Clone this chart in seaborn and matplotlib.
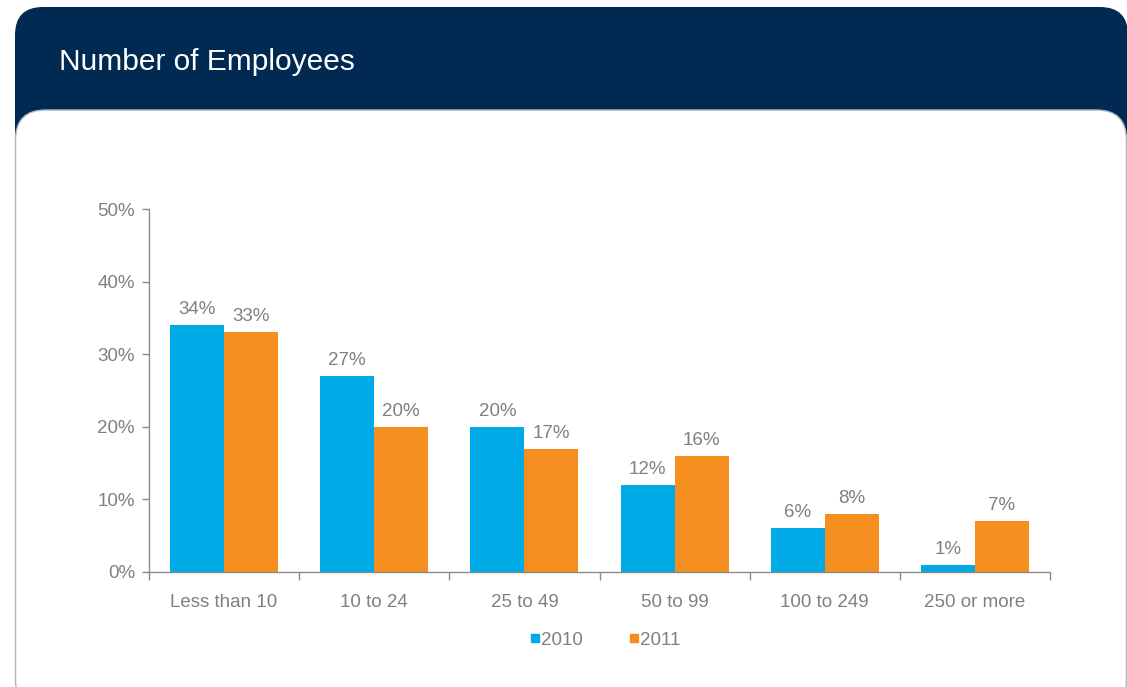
import matplotlib
matplotlib.use("Agg")
import matplotlib.pyplot as plt
from matplotlib.patches import FancyBboxPatch
from matplotlib.lines import Line2D
import seaborn as sns
import pandas as pd

# --- data ---------------------------------------------------------------
categories = ["Less than 10", "10 to 24", "25 to 49", "50 to 99", "100 to 249", "250 or more"]
years = ["2010", "2011"]
share_2010 = [34, 27, 20, 12, 6, 1]
share_2011 = [33, 20, 17, 16, 8, 7]
y_ticks = [0, 10, 20, 30, 40, 50]

df = pd.DataFrame({
    "size": categories * 2,
    "year": [years[0]] * len(categories) + [years[1]] * len(categories),
    "pct": share_2010 + share_2011,
})

# --- style --------------------------------------------------------------
NAVY = "#002a52"
BLUE = "#00aae7"
ORANGE = "#f48e1f"
GREY = "#808080"
AXIS = "#8a8a8a"
FS = 13.5

sns.set_theme(style="white")
plt.rcParams["font.family"] = ["Liberation Sans", "DejaVu Sans"]

W, H = 1127, 687
fig = plt.figure(figsize=(W / 100, H / 100), dpi=100)

# background card: navy header strip and white rounded panel
bg = fig.add_axes([0, 0, 1, 1])
bg.set_xlim(0, W)
bg.set_ylim(H, 0)
bg.axis("off")
bg.add_patch(FancyBboxPatch((15, 7), W - 15 + 1, 160,
                            boxstyle="round,pad=0,rounding_size=28",
                            fc=NAVY, ec="none"))
bg.add_patch(FancyBboxPatch((15.5, 110), W - 16, 600,
                            boxstyle="round,pad=0,rounding_size=30",
                            fc="white", ec="#a9b6c4", lw=1.0))
bg.text(59, 62, "Number of Employees", color="white", fontsize=21.5,
        va="center", ha="left")

# --- chart --------------------------------------------------------------
ax = fig.add_axes([149 / W, 115 / H, 901 / W, 363 / H])
sns.barplot(data=df, x="size", y="pct", hue="year", order=categories,
            hue_order=years, palette=[BLUE, ORANGE], saturation=1,
            width=0.72, gap=0, linewidth=0, edgecolor="none",
            ax=ax, legend=False)

for cont in ax.containers:
    ax.bar_label(cont, fmt="%d%%", padding=5, color=GREY, fontsize=FS)

ax.set_xlim(-0.5, len(categories) - 0.5)
ax.set_ylim(0, 50)
ax.set_yticks(y_ticks)
ax.set_yticklabels([f"{t}%" for t in y_ticks])
ax.set_xlabel("")
ax.set_ylabel("")

ax.set_xticks([i - 0.5 for i in range(len(categories) + 1)], minor=True)
ax.tick_params(axis="x", which="major", length=0, pad=16, labelsize=FS,
               labelcolor=GREY)
ax.tick_params(axis="x", which="minor", length=6, width=1, color=AXIS,
               direction="out", bottom=True)
ax.tick_params(axis="y", which="major", length=5, width=1, color=AXIS,
               direction="out", left=True, pad=5, labelsize=FS,
               labelcolor=GREY)

sns.despine(ax=ax, top=True, right=True)
for side in ("left", "bottom"):
    ax.spines[side].set_color(AXIS)
    ax.spines[side].set_linewidth(1)

handles = [Line2D([], [], marker="s", ls="none", ms=5.5, mfc=c, mec=c)
           for c in (BLUE, ORANGE)]
fig.legend(handles, years, loc="center", bbox_to_anchor=(605 / W, 1 - 640 / H),
           ncol=2, frameon=False, handletextpad=0.05, columnspacing=2.4,
           handlelength=0.6, fontsize=FS, labelcolor=GREY)

fig.savefig("out.png", dpi=100)
